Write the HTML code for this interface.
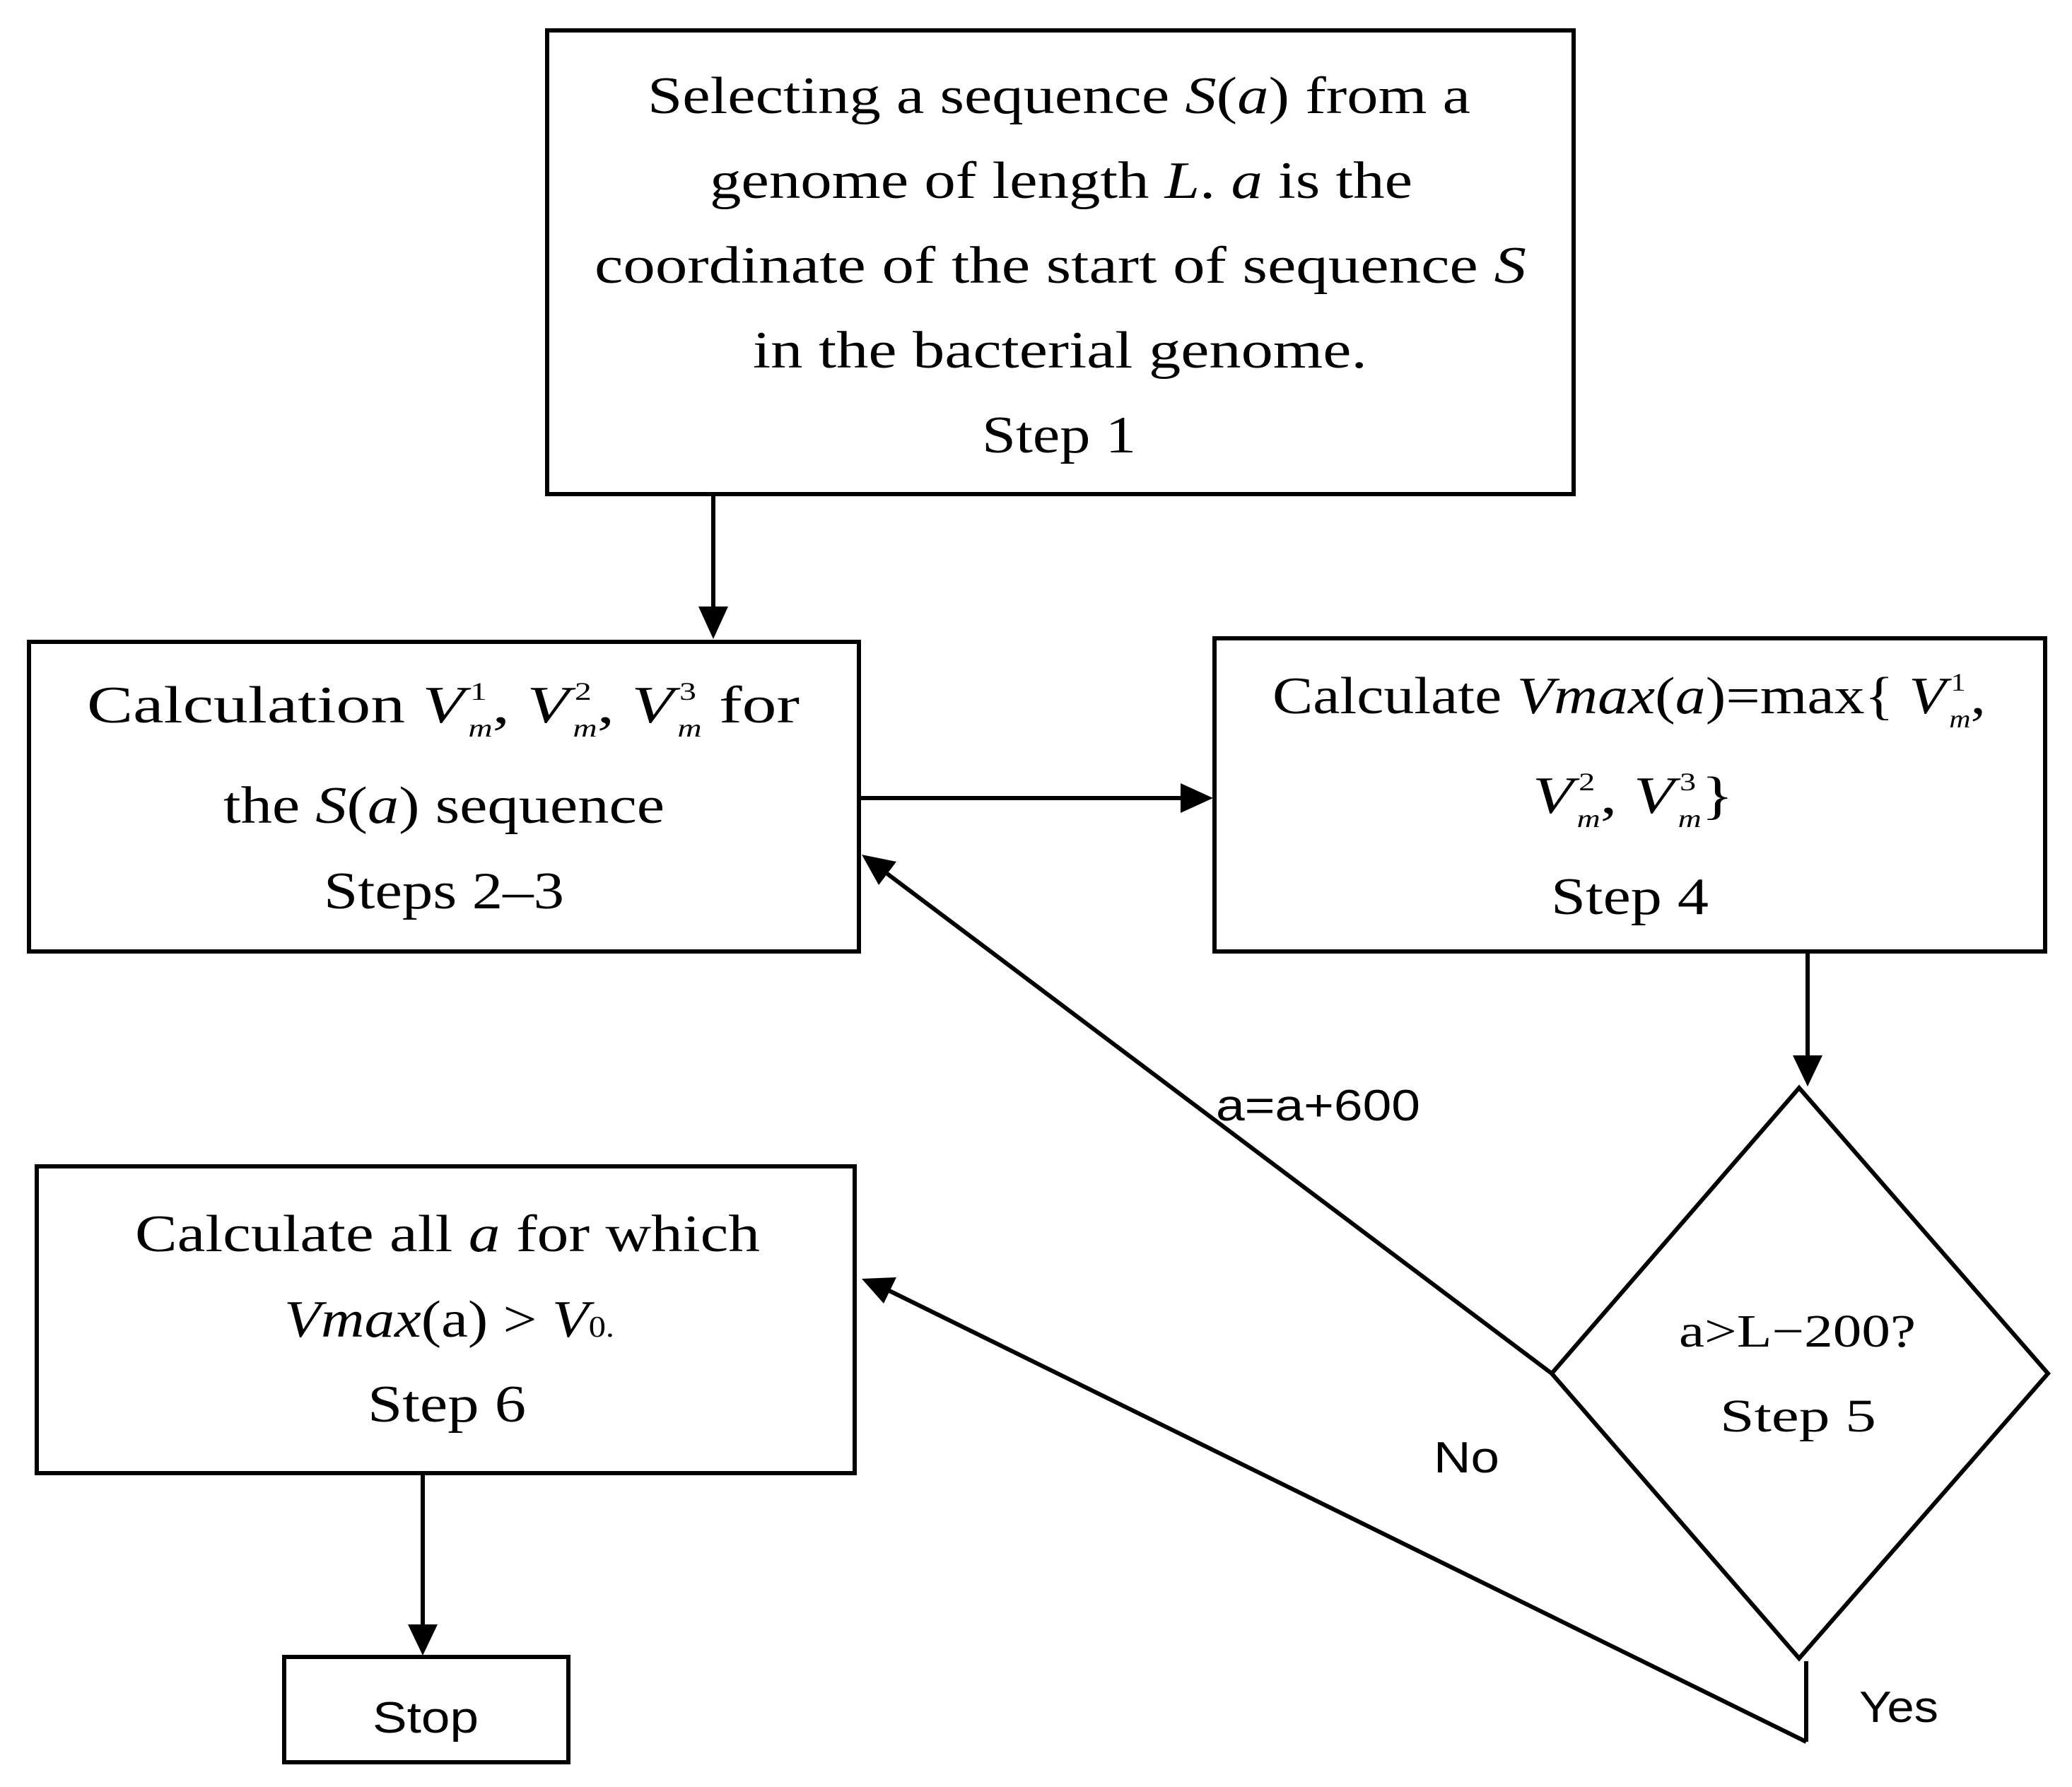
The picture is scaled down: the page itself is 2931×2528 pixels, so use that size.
<!DOCTYPE html>
<html><head><meta charset="utf-8"><style>
html,body{margin:0;padding:0;background:#fff;}
svg{display:block;}
.s{font-family:"Liberation Serif",serif;font-size:74px;fill:#000;}
.i{font-style:italic;}
.sub{font-size:36px;font-style:italic;}
.sup{font-size:36px;}
.l{font-family:"Liberation Sans",sans-serif;font-size:62px;fill:#000;}
</style></head><body>
<svg width="2931" height="2528" viewBox="0 0 2931 2528" xmlns="http://www.w3.org/2000/svg">
<g fill="none" stroke="#000" stroke-width="6">
<rect x="774" y="43" width="1452" height="656"/>
<rect x="41" y="908" width="1174" height="438"/>
<rect x="1718" y="903" width="1175" height="443"/>
<rect x="52" y="1650" width="1157" height="434"/>
<rect x="402" y="2344" width="402" height="149"/>
<polygon points="2545,1539 2897,1943 2545,2346 2195,1943"/>
<line x1="1009" y1="699" x2="1009" y2="860"/>
<line x1="1215" y1="1129" x2="1672" y2="1129"/>
<line x1="2557" y1="1346" x2="2557" y2="1495"/>
<line x1="2195" y1="1943" x2="1255" y2="1236"/>
<line x1="2555" y1="2350" x2="2555" y2="2464"/>
<line x1="2555" y1="2464" x2="1258" y2="1826"/>
<line x1="598" y1="2084" x2="598" y2="2300"/>
</g>
<g fill="#000">
<polygon points="988,858 1030,858 1009,904"/>
<polygon points="1670,1108 1670,1150 1716,1129"/>
<polygon points="2536,1493 2578,1493 2557,1537"/>
<polygon points="1219,1209 1268,1219 1243,1252"/>
<polygon points="1219,1809 1268,1807 1250,1844"/>
<polygon points="577,2298 619,2298 598,2342"/>
</g>
<g class="s">
<text x="916" y="160" textLength="1164" lengthAdjust="spacingAndGlyphs">Selecting a sequence <tspan class="i">S</tspan>(<tspan class="i">a</tspan>) from a</text>
<text x="1004" y="280" textLength="994" lengthAdjust="spacingAndGlyphs">genome of length <tspan class="i">L</tspan>. <tspan class="i">a</tspan> is the</text>
<text x="841" y="400" textLength="1318" lengthAdjust="spacingAndGlyphs">coordinate of the start of sequence <tspan class="i">S</tspan></text>
<text x="1065" y="520" textLength="869" lengthAdjust="spacingAndGlyphs">in the bacterial genome.</text>
<text x="1389" y="640" textLength="218" lengthAdjust="spacingAndGlyphs">Step 1</text>
<text x="123" y="1022" textLength="1008" lengthAdjust="spacingAndGlyphs">Calculation <tspan class="i">V</tspan><tspan class="sup" dx="6" dy="-32">1</tspan><tspan class="sub" dx="-20" dy="52">m</tspan><tspan dy="-20">,  </tspan><tspan class="i">V</tspan><tspan class="sup" dx="6" dy="-32">2</tspan><tspan class="sub" dx="-20" dy="52">m</tspan><tspan dy="-20">,  </tspan><tspan class="i">V</tspan><tspan class="sup" dx="6" dy="-32">3</tspan><tspan class="sub" dx="-20" dy="52">m</tspan><tspan dy="-20">   for</tspan></text>
<text x="316" y="1164" textLength="624" lengthAdjust="spacingAndGlyphs">the <tspan class="i">S</tspan>(<tspan class="i">a</tspan>) sequence</text>
<text x="458" y="1285" textLength="340" lengthAdjust="spacingAndGlyphs">Steps 2–3</text>
<text x="1800" y="1009" textLength="1009" lengthAdjust="spacingAndGlyphs">Calculate <tspan class="i">Vmax</tspan>(<tspan class="i">a</tspan>)=max{ <tspan class="i">V</tspan><tspan class="sup" dx="6" dy="-32">1</tspan><tspan class="sub" dx="-20" dy="52">m</tspan><tspan dy="-20">,</tspan></text>
<text x="2168" y="1150" textLength="284" lengthAdjust="spacingAndGlyphs"><tspan class="i">V</tspan><tspan class="sup" dx="6" dy="-32">2</tspan><tspan class="sub" dx="-20" dy="52">m</tspan><tspan dy="-20">,  </tspan><tspan class="i">V</tspan><tspan class="sup" dx="6" dy="-32">3</tspan><tspan class="sub" dx="-20" dy="52">m</tspan><tspan dy="-20">}</tspan></text>
<text x="2194" y="1293" textLength="223" lengthAdjust="spacingAndGlyphs">Step 4</text>
<text x="191" y="1770" textLength="884" lengthAdjust="spacingAndGlyphs">Calculate all <tspan class="i">a</tspan> for which</text>
<text x="402" y="1891" textLength="467" lengthAdjust="spacingAndGlyphs"><tspan class="i">Vmax</tspan>(a) &gt; <tspan class="i">V</tspan><tspan font-size="42">0.</tspan></text>
<text x="520" y="2011" textLength="224" lengthAdjust="spacingAndGlyphs">Step 6</text>
<text x="2375" y="1905" font-size="66" textLength="335" lengthAdjust="spacingAndGlyphs">a&gt;L−200?</text>
<text x="2433" y="2025" font-size="66" textLength="221" lengthAdjust="spacingAndGlyphs">Step 5</text>
</g>
<g class="l">
<text x="1720" y="1585" textLength="289" lengthAdjust="spacingAndGlyphs">a=a+600</text>
<text x="2028" y="2083" textLength="93" lengthAdjust="spacingAndGlyphs">No</text>
<text x="2630" y="2436" textLength="112" lengthAdjust="spacingAndGlyphs">Yes</text>
<text x="527" y="2451" textLength="150" lengthAdjust="spacingAndGlyphs">Stop</text>
</g>
</svg>
</body></html>
